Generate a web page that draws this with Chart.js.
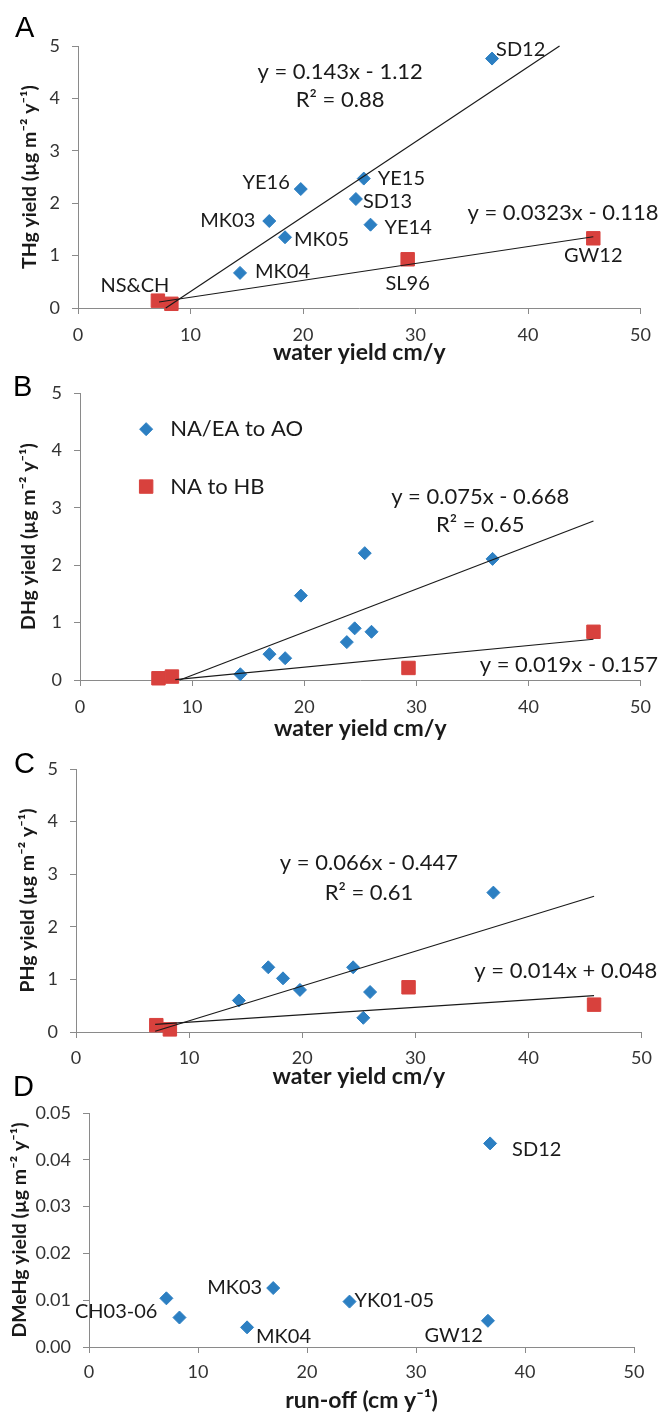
<!DOCTYPE html>
<html>
<head>
<meta charset="utf-8">
<script src="https://cdn.jsdelivr.net/npm/chart.js@4.4.0/dist/chart.umd.min.js"></script>
<style>
  body { margin: 0; background: #fff; }
  #page { position: relative; width: 661px; height: 1414px; overflow: hidden; }
  canvas { position: absolute; left: 0; }
  .tag { position: absolute; font: 29px 'Liberation Sans', Arial, sans-serif; line-height: 29px; color: #000; }
</style>
</head>
<body>
<div id="page">
  <canvas id="chartA" width="661" height="366" style="top:0px"></canvas>
  <canvas id="chartB" width="661" height="376" style="top:366px"></canvas>
  <canvas id="chartC" width="661" height="348" style="top:742px"></canvas>
  <canvas id="chartD" width="661" height="324" style="top:1090px"></canvas>
  <div class="tag" style="left:15px;top:13px">A</div>
  <div class="tag" style="left:13px;top:372px">B</div>
  <div class="tag" style="left:14px;top:749px">C</div>
  <div class="tag" style="left:13px;top:1072px">D</div>
</div>
<script>
// Panel A - THg
const aBlueX = [14.4, 17.0, 18.4, 19.8, 24.7, 25.4, 26.0, 36.8];
const aBlueY = [0.67, 1.66, 1.35, 2.27, 2.08, 2.47, 1.59, 4.76];
const aBlueNames = ['MK04', 'MK03', 'MK05', 'YE16', 'SD13', 'YE15', 'YE14', 'SD12'];
const aRedX = [7.1, 8.3, 29.3, 45.8];
const aRedY = [0.14, 0.08, 0.93, 1.33];
const aRedNames = ['NS&CH', '', 'SL96', 'GW12'];
const aBlueTrend = [[7.8, 0], [42.8, 5.0]];
const aRedTrend = [[7.2, 0.115], [45.8, 1.36]];

// Panel B - DHg
const bBlueX = [14.3, 16.9, 18.3, 19.7, 23.8, 24.5, 25.4, 26.0, 36.8];
const bBlueY = [0.10, 0.45, 0.38, 1.47, 0.66, 0.90, 2.21, 0.84, 2.11];
const bRedX = [7.0, 8.2, 29.3, 45.8];
const bRedY = [0.03, 0.06, 0.21, 0.84];
const bBlueTrend = [[8.9, 0], [45.8, 2.77]];
const bRedTrend = [[8.5, 0.005], [45.8, 0.71]];

// Panel C - PHg
const cBlueX = [14.4, 17.0, 18.3, 19.8, 24.5, 25.4, 26.0, 36.9];
const cBlueY = [0.60, 1.23, 1.02, 0.80, 1.23, 0.27, 0.76, 2.65];
const cRedX = [7.1, 8.3, 29.4, 45.8];
const cRedY = [0.13, 0.05, 0.85, 0.52];
const cBlueTrend = [[7.0, 0.015], [45.8, 2.58]];
const cRedTrend = [[7.0, 0.146], [45.8, 0.69]];

// Panel D - DMeHg
const dBlueX = [7.1, 8.3, 14.5, 16.9, 23.9, 36.6, 36.8];
const dBlueY = [0.0104, 0.0063, 0.0042, 0.0126, 0.0097, 0.0056, 0.0435];
const dBlueNames = ['CH03-06', '', 'MK04', 'MK03', 'YK01-05', 'GW12', 'SD12'];

const seriesNames = ['NA/EA to AO', 'NA to HB'];
const xTicks = [0, 10, 20, 30, 40, 50];

const FONT = "Lato, 'DejaVu Sans', sans-serif";
const BLUE = '#2c7fc2';
const RED = '#d8413d';
const AXIS = '#8a8a8a';
const INK = '#1a1a1a';

// offsets [dx, dy, align] of the site names
const aBlueOffsets = [[15, -1, 'left'], [-14, 0, 'right'], [9, 2, 'left'], [-11, -7, 'right'],
  [7, 3, 'left'], [14, 0, 'left'], [14, 3, 'left'], [4, -9, 'left']];
const aRedOffsets = [[-23, -15, 'center'], [0, 0, 'center'], [0, 24, 'center'], [0, 17, 'center']];
const dBlueOffsets = [[-9, 13, 'right'], [0, 0, 'left'], [9, 9, 'left'], [-11, 0, 'right'],
  [5, -1, 'left'], [-5, 15, 'right'], [22, 6, 'left']];

function pts(xs, ys) {
  return xs.map((x, i) => ({ x: x, y: ys[i] }));
}

function blueSet(xs, ys) {
  return { label: seriesNames[0], data: pts(xs, ys), pointStyle: 'rectRot', pointRadius: 6.5,
    backgroundColor: BLUE, borderColor: BLUE, borderWidth: 1, clip: false, order: 1 };
}

function redSet(xs, ys) {
  return { label: seriesNames[1], data: pts(xs, ys), pointStyle: 'rect', pointRadius: 9.5,
    backgroundColor: RED, borderColor: RED, borderWidth: 1, clip: false, order: 1 };
}

function trendSet(line) {
  return { label: 'trend', data: line.map(p => ({ x: p[0], y: p[1] })), showLine: true,
    pointRadius: 0, borderColor: INK, borderWidth: 1.2, clip: false, order: 0 };
}

// Texto, rótulos e legenda desenhados sobre o gráfico
const notesPlugin = {
  id: 'notes',
  afterDatasetsDraw(chart, args, opts) {
    const ctx = chart.ctx;
    const sx = chart.scales.x, sy = chart.scales.y;
    ctx.save();
    ctx.fillStyle = INK;
    ctx.textBaseline = 'middle';
    (opts.texts || []).forEach(t => {
      ctx.font = '22px ' + FONT;
      ctx.textAlign = 'center';
      ctx.fillText(t.text, sx.getPixelForValue(t.x), sy.getPixelForValue(t.y));
    });
    (opts.pointLabels || []).forEach(pl => {
      const meta = chart.getDatasetMeta(pl.dataset);
      pl.names.forEach((name, i) => {
        if (!name) return;
        const el = meta.data[i];
        const off = pl.offsets[i];
        ctx.font = '20px ' + FONT;
        ctx.textAlign = off[2];
        ctx.fillText(name, el.x + off[0], el.y + off[1]);
      });
    });
    (opts.legend || []).forEach(item => {
      const ds = chart.data.datasets[item.dataset];
      const px = sx.getPixelForValue(item.x), py = sy.getPixelForValue(item.y);
      ctx.fillStyle = ds.backgroundColor;
      ctx.strokeStyle = ds.borderColor;
      ctx.lineWidth = 1;
      Chart.helpers.drawPoint(ctx, { pointStyle: ds.pointStyle, radius: ds.pointRadius, rotation: 0, borderWidth: 1 }, px, py);
      ctx.fillStyle = INK;
      ctx.font = '22px ' + FONT;
      ctx.textAlign = 'left';
      ctx.fillText(ds.label, px + 24, py);
    });
    ctx.restore();
  }
};

function panel(id, cfg) {
  const tickFont = { family: FONT, size: 18 };
  const xTitleFont = { family: FONT, size: 23, weight: 'bold' };
  const yTitleFont = { family: FONT, size: 19.5, weight: 'bold' };
  return new Chart(document.getElementById(id), {
    type: 'scatter',
    data: { datasets: cfg.datasets },
    options: {
      responsive: false,
      animation: false,
      events: [],
      layout: { padding: { top: cfg.padTop, right: cfg.padRight, left: 0, bottom: 0 } },
      plugins: { legend: { display: false }, tooltip: { enabled: false }, notes: cfg.notes },
      scales: {
        x: {
          type: 'linear', min: 0, max: 50,
          afterBuildTicks: s => { s.ticks = xTicks.map(v => ({ value: v })); },
          ticks: { padding: cfg.xTickPad, font: tickFont, color: '#333' },
          grid: { drawOnChartArea: false, drawTicks: true, tickLength: 6, color: AXIS },
          border: { color: AXIS, width: 1 },
          title: { display: true, text: cfg.xTitle, font: xTitleFont, color: INK, padding: { top: 0, bottom: 0 } },
          afterFit: s => { s.height = cfg.xHeight; }
        },
        y: {
          type: 'linear', min: 0, max: cfg.yMax,
          afterBuildTicks: s => { s.ticks = cfg.yTicks.map(v => ({ value: v })); },
          ticks: { padding: 12, font: tickFont, color: '#333', callback: cfg.yFormat },
          grid: { drawOnChartArea: false, drawTicks: true, tickLength: 6, color: AXIS },
          border: { color: AXIS, width: 1 },
          title: { display: true, text: cfg.yTitle, font: yTitleFont, color: INK, padding: { top: cfg.yTitlePad, bottom: 0 } },
          afterFit: s => { s.width = cfg.yWidth; }
        }
      }
    },
    plugins: [notesPlugin]
  });
}

const yTicks5 = [0, 1, 2, 3, 4, 5];
const yTicksD = [0, 0.01, 0.02, 0.03, 0.04, 0.05];

panel('chartA', {
  datasets: [trendSet(aBlueTrend), trendSet(aRedTrend), blueSet(aBlueX, aBlueY), redSet(aRedX, aRedY)],
  padTop: 46, padRight: 19, yWidth: 78, xHeight: 58, xTickPad: 10, yTitlePad: 18,
  yMax: 5, yTicks: yTicks5, yFormat: v => v,
  xTitle: 'water yield cm/y', yTitle: 'THg yield (µg m⁻² y⁻¹)',
  notes: {
    texts: [{ text: 'y = 0.143x - 1.12', x: 23.3, y: 4.50 }, { text: 'R² = 0.88', x: 23.3, y: 3.97 },
      { text: 'y = 0.0323x - 0.118', x: 43.1, y: 1.81 }],
    pointLabels: [{ dataset: 2, names: aBlueNames, offsets: aBlueOffsets },
      { dataset: 3, names: aRedNames, offsets: aRedOffsets }]
  }
});

panel('chartB', {
  datasets: [trendSet(bBlueTrend), trendSet(bRedTrend), blueSet(bBlueX, bBlueY), redSet(bRedX, bRedY)],
  padTop: 27, padRight: 19, yWidth: 80, xHeight: 62, xTickPad: 10, yTitlePad: 17,
  yMax: 5, yTicks: yTicks5, yFormat: v => v,
  xTitle: 'water yield cm/y', yTitle: 'DHg yield (µg m⁻² y⁻¹)',
  notes: {
    texts: [{ text: 'y = 0.075x - 0.668', x: 35.7, y: 3.19 }, { text: 'R² = 0.65', x: 35.7, y: 2.70 },
      { text: 'y = 0.019x - 0.157', x: 43.6, y: 0.26 }],
    legend: [{ dataset: 2, x: 5.9, y: 4.37 }, { dataset: 3, x: 5.9, y: 3.37 }]
  }
});

panel('chartC', {
  datasets: [trendSet(cBlueTrend), trendSet(cRedTrend), blueSet(cBlueX, cBlueY), redSet(cRedX, cRedY)],
  padTop: 27, padRight: 19, yWidth: 76, xHeight: 58, xTickPad: 9, yTitlePad: 16,
  yMax: 5, yTicks: yTicks5, yFormat: v => v,
  xTitle: 'water yield cm/y', yTitle: 'PHg yield (µg m⁻² y⁻¹)',
  notes: {
    texts: [{ text: 'y = 0.066x - 0.447', x: 25.9, y: 3.21 }, { text: 'R² = 0.61', x: 25.9, y: 2.65 },
      { text: 'y = 0.014x + 0.048', x: 43.3, y: 1.17 }]
  }
});

panel('chartD', {
  datasets: [blueSet(dBlueX, dBlueY)],
  padTop: 23, padRight: 27, yWidth: 89, xHeight: 67, xTickPad: 8, yTitlePad: 8,
  yMax: 0.05, yTicks: yTicksD, yFormat: v => Number(v).toFixed(2),
  xTitle: 'run-off (cm y⁻¹)', yTitle: 'DMeHg yield (µg m⁻² y⁻¹)',
  notes: {
    pointLabels: [{ dataset: 0, names: dBlueNames, offsets: dBlueOffsets }]
  }
});
</script>
</body>
</html>
